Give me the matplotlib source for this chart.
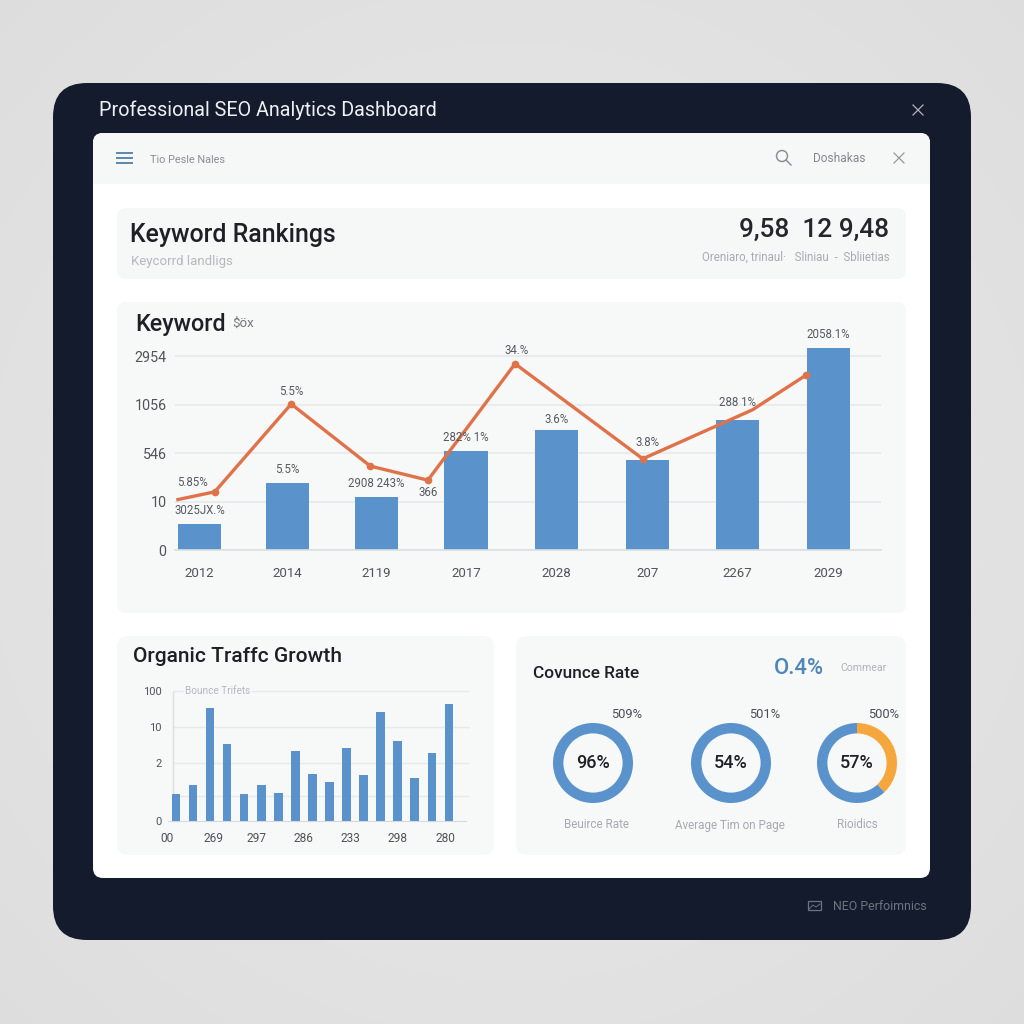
import numpy as np
import matplotlib
matplotlib.use('Agg')
import matplotlib.pyplot as plt
from matplotlib.patches import FancyBboxPatch, Rectangle, Circle

plt.rcParams['font.family'] = ['Roboto', 'DejaVu Sans']

# main chart
years = ['2012', '2014', '2119', '2017', '2028', '207', '2267', '2029']
bar_x = [0, 0.98, 1.965, 2.965, 3.97, 4.98, 5.985, 6.997]
bar_vals = [0.54, 1.38, 1.09, 2.04, 2.47, 1.86, 2.68, 4.16]
bar_labels = ['3025JX.%', '5.5%', '2908 243%', '282% 1%', '3.6%', '3.8%', '288 1%', '2058.1%']
line_x = [-0.24, 0.17, 1.02, 1.90, 2.54, 3.51, 4.93, 6.15, 6.75]
line_vals = [1.04, 1.20, 3.01, 1.73, 1.44, 3.84, 1.88, 2.89, 3.61]
main_yticks = [0, 1, 2, 3, 4]
main_ylabels = ['0', '10', '546', '1056', '2954']

# organic traffic
traffic = [0.76, 1.0, 3.15, 2.14, 0.76, 1.0, 0.77, 1.95, 1.31, 1.09, 2.04, 1.27, 3.04, 2.22, 1.2, 1.89, 3.26]
traffic_xticks = [-0.5, 2.17, 4.75, 7.45, 10.2, 12.96, 15.8]
traffic_xlabels = ['00', '269', '297', '286', '233', '298', '280']
traffic_grid = [0.7, 1.6, 2.6, 3.6]
traffic_yticks = [0, 1.6, 2.6, 3.6]
traffic_ylabels = ['0', '2', '10', '100']

# donuts
donut_vals = [[100, 0], [100, 0], [38, 62]]
donut_center = ['96%', '54%', '57%']
donut_top = ['509%', '501%', '500%']
donut_names = ['Beuirce Rate', 'Average Tim on Page', 'Rioidics']

BLUE = '#5a92cc'
ORANGE = '#e0724a'
AMBER = '#f5a63c'
DARK = '#141b2d'
INK = '#1d2126'
TICK = '#4f545a'
LABEL = '#565b61'
CARD = '#f7f8f8'

fig = plt.figure(figsize=(10.24, 10.24), dpi=100)


def px_axes(x0, y0, x1, y1, **kw):
    return fig.add_axes([x0 / 1024, 1 - y1 / 1024, (x1 - x0) / 1024, (y1 - y0) / 1024], **kw)


bg = px_axes(0, 0, 1024, 1024)
bg.axis('off')

# soft grey backdrop, lighter towards the middle
yy, xx = np.mgrid[0:1:256j, 0:1:256j]
shade = 0.915 - 0.07 * np.hypot(xx - 0.5, yy - 0.5)
bg.imshow(shade, cmap='gray', vmin=0, vmax=1, extent=(0, 1024, 1024, 0), zorder=0, aspect='auto')
bg.set_xlim(0, 1024)
bg.set_ylim(1024, 0)


def card(x0, y0, x1, y1, r, color, z=1):
    bg.add_patch(FancyBboxPatch((x0 + r, y0 + r), x1 - x0 - 2 * r, y1 - y0 - 2 * r,
                                boxstyle='round,pad=%d,rounding_size=%d' % (r, r),
                                fc=color, ec='none', zorder=z))


card(53, 83, 971, 940, 34, DARK)
card(93, 133, 930, 878, 10, '#ffffff', 2)
# header strip of the white panel, square at the bottom
card(93, 133, 930, 170, 10, '#f6f7f7', 3)
bg.add_patch(Rectangle((93, 155), 837, 29, fc='#f6f7f7', ec='none', zorder=3))
card(117, 208, 906, 279, 9, '#f6f7f7', 3)
card(117, 302, 906, 613, 9, CARD, 3)
card(117, 636, 494, 855, 11, CARD, 3)
card(516, 636, 906, 855, 11, CARD, 3)


def t(x, y, s, size, color=INK, ha='left', weight='normal'):
    bg.text(x, y, s, fontsize=size, color=color, ha=ha, va='center', fontweight=weight, zorder=5)


t(99, 110, 'Professional SEO Analytics Dashboard', 14.2, '#eef0f3')
bg.plot([913, 923], [105, 115], color='#aeb4bd', lw=0.9, zorder=5)
bg.plot([913, 923], [115, 105], color='#aeb4bd', lw=0.9, zorder=5)

# top bar icons
for y_line in (153, 158, 163):
    bg.plot([117, 132], [y_line, y_line], color='#5b86ad', lw=1.4, zorder=5)
t(150, 160, 'Tio Pesle Nales', 7.8, '#8b8f94')
bg.add_patch(Circle((782, 156), 5.5, fc='none', ec='#85898e', lw=1, zorder=5))
bg.plot([786, 791], [160, 165], color='#85898e', lw=1, zorder=5)
t(813, 159, 'Doshakas', 8.6, '#85898e')
bg.plot([894, 904], [153, 163], color='#94989d', lw=0.9, zorder=5)
bg.plot([894, 904], [163, 153], color='#94989d', lw=0.9, zorder=5)

t(130, 235, 'Keyword Rankings', 17.9, INK, weight='medium')
t(131, 261, 'Keycorrd landligs', 9.5, '#b5b8bc')
t(889, 230, '9,58  12 9,48', 18.9, '#23272c', ha='right', weight='medium')
t(890, 257, 'Oreniaro, trinaul·   Sliniau  -  Sbliietias', 8.3, '#a8abb0', ha='right')

t(135, 324, 'Keyword', 16.8, INK, weight='medium')
t(232, 323, '$öx', 9.5, '#73777c')

t(133, 656, 'Organic Traffc Growth', 15.1, INK, weight='medium')

t(533, 674, 'Covunce Rate', 12.4, INK, weight='medium')
t(774, 669, 'O.4%', 15.8, '#4f86b8', weight='medium')
t(840, 668, 'Commear', 7.6, '#b0b3b7')

# footer
bg.add_patch(Rectangle((808, 901), 13, 9, fc='none', ec='#6d7480', lw=0.9, zorder=5))
bg.plot([809, 813, 816, 820], [909, 905, 907, 904], color='#6d7480', lw=0.7, zorder=5)
t(833, 906, 'NEO Perfoimnics', 8.9, '#6d7480')

# main bar + line chart
ax = px_axes(175, 340, 881, 550)
ax.patch.set_alpha(0)
ax.set_zorder(6)
ax.bar(bar_x, bar_vals, width=0.48, color=BLUE, zorder=2)
ax.plot(line_x, line_vals, color=ORANGE, lw=2.4, marker='o', markersize=4.5,
        markevery=[1, 2, 3, 4, 5, 6, 8], zorder=3)
ax.set_yticks(main_yticks)
ax.set_yticklabels(main_ylabels, fontsize=10.3, color=TICK)
ax.set_xticks(bar_x)
ax.set_xticklabels(years, fontsize=9.5, color=TICK)
ax.set_xlim(-0.2725, 7.58)
ax.set_ylim(0, 4.33)
ax.tick_params(axis='x', length=0, pad=12)
ax.tick_params(axis='y', length=0, pad=6)
ax.grid(axis='y', color='#e7e9eb', lw=1.2, zorder=0)
ax.set_axisbelow(True)
for s in ('top', 'right', 'left'):
    ax.spines[s].set_visible(False)
ax.spines['bottom'].set_color('#dcdfe2')
ax.spines['bottom'].set_linewidth(1.2)

label_gap = [5, 5, 5, 5, 3, 8, 8, 5]
for x, v, lab, gap in zip(bar_x, bar_vals, bar_labels, label_gap):
    ax.annotate(lab, (x, v), xytext=(0, gap), textcoords='offset points', ha='center', va='bottom',
                fontsize=8.3, color=LABEL, zorder=4)
ax.annotate('5.85%', (line_x[1], line_vals[1]), xytext=(-16, 2), textcoords='offset points',
            ha='center', va='bottom', fontsize=8.3, color=LABEL)
ax.annotate('5.5%', (line_x[2], line_vals[2]), xytext=(0, 4), textcoords='offset points',
            ha='center', va='bottom', fontsize=8.3, color=LABEL)
ax.annotate('366', (line_x[4], line_vals[4]), xytext=(0, -4), textcoords='offset points',
            ha='center', va='top', fontsize=8.3, color=LABEL)
ax.annotate('34.%', (line_x[5], line_vals[5]), xytext=(1, 5), textcoords='offset points',
            ha='center', va='bottom', fontsize=8.3, color=LABEL, annotation_clip=False)

# organic traffic bars, axes start left of the axis line so the first tick label fits
ax2 = px_axes(163, 685, 470, 821)
ax2.patch.set_alpha(0)
ax2.set_zorder(6)
ax2.bar(range(len(traffic)), traffic, width=0.5, color=BLUE, zorder=2)
ax2.set_yticks(traffic_yticks)
ax2.set_yticklabels(traffic_ylabels, fontsize=8, color=TICK)
ax2.set_xticks(traffic_xticks)
ax2.set_xticklabels(traffic_xlabels, fontsize=8.6, color=TICK)
ax2.set_xlim(-0.762, 17.24)
ax2.set_ylim(0, 3.78)
ax2.hlines(traffic_grid, -0.2, 17.24, color='#e7e9eb', lw=1, zorder=0)
ax2.vlines(-0.2, 0, 3.6, color='#dcdfe2', lw=1, zorder=1)
ax2.tick_params(axis='x', length=0, pad=8)
ax2.tick_params(axis='y', length=0, pad=1)
for s in ('top', 'right', 'left'):
    ax2.spines[s].set_visible(False)
ax2.spines['bottom'].set_color('#d5d9dd')
ax2.spines['bottom'].set_bounds(-0.45, 17.0)
ax2.text(0.53, 3.6, 'Bounce Trifets', fontsize=7.2, color='#b5b8bc', ha='left', va='center',
         bbox=dict(fc=CARD, ec='none', pad=1))

# donuts
centers = [593, 731, 857]
top_x = [627, 765, 884]
name_x = [597, 730, 857]
for i in range(3):
    cx = centers[i]
    d = px_axes(cx - 40, 723, cx + 40, 803)
    d.set_zorder(6)
    d.pie(donut_vals[i], colors=[AMBER, BLUE] if i == 2 else [BLUE, BLUE],
          startangle=90, counterclock=False, radius=1, wedgeprops=dict(width=0.26, lw=0))
    d.set_xlim(-1, 1)
    d.set_ylim(-1, 1)
    d.text(0, 0, donut_center[i], ha='center', va='center', fontsize=13, color=INK, fontweight='medium')
    t(top_x[i], 714, donut_top[i], 9.3, '#4a4f55', ha='center')
    t(name_x[i], 825, donut_names[i], 8.4, '#a6a9ae', ha='center')

fig.savefig('out.png', dpi=100)
